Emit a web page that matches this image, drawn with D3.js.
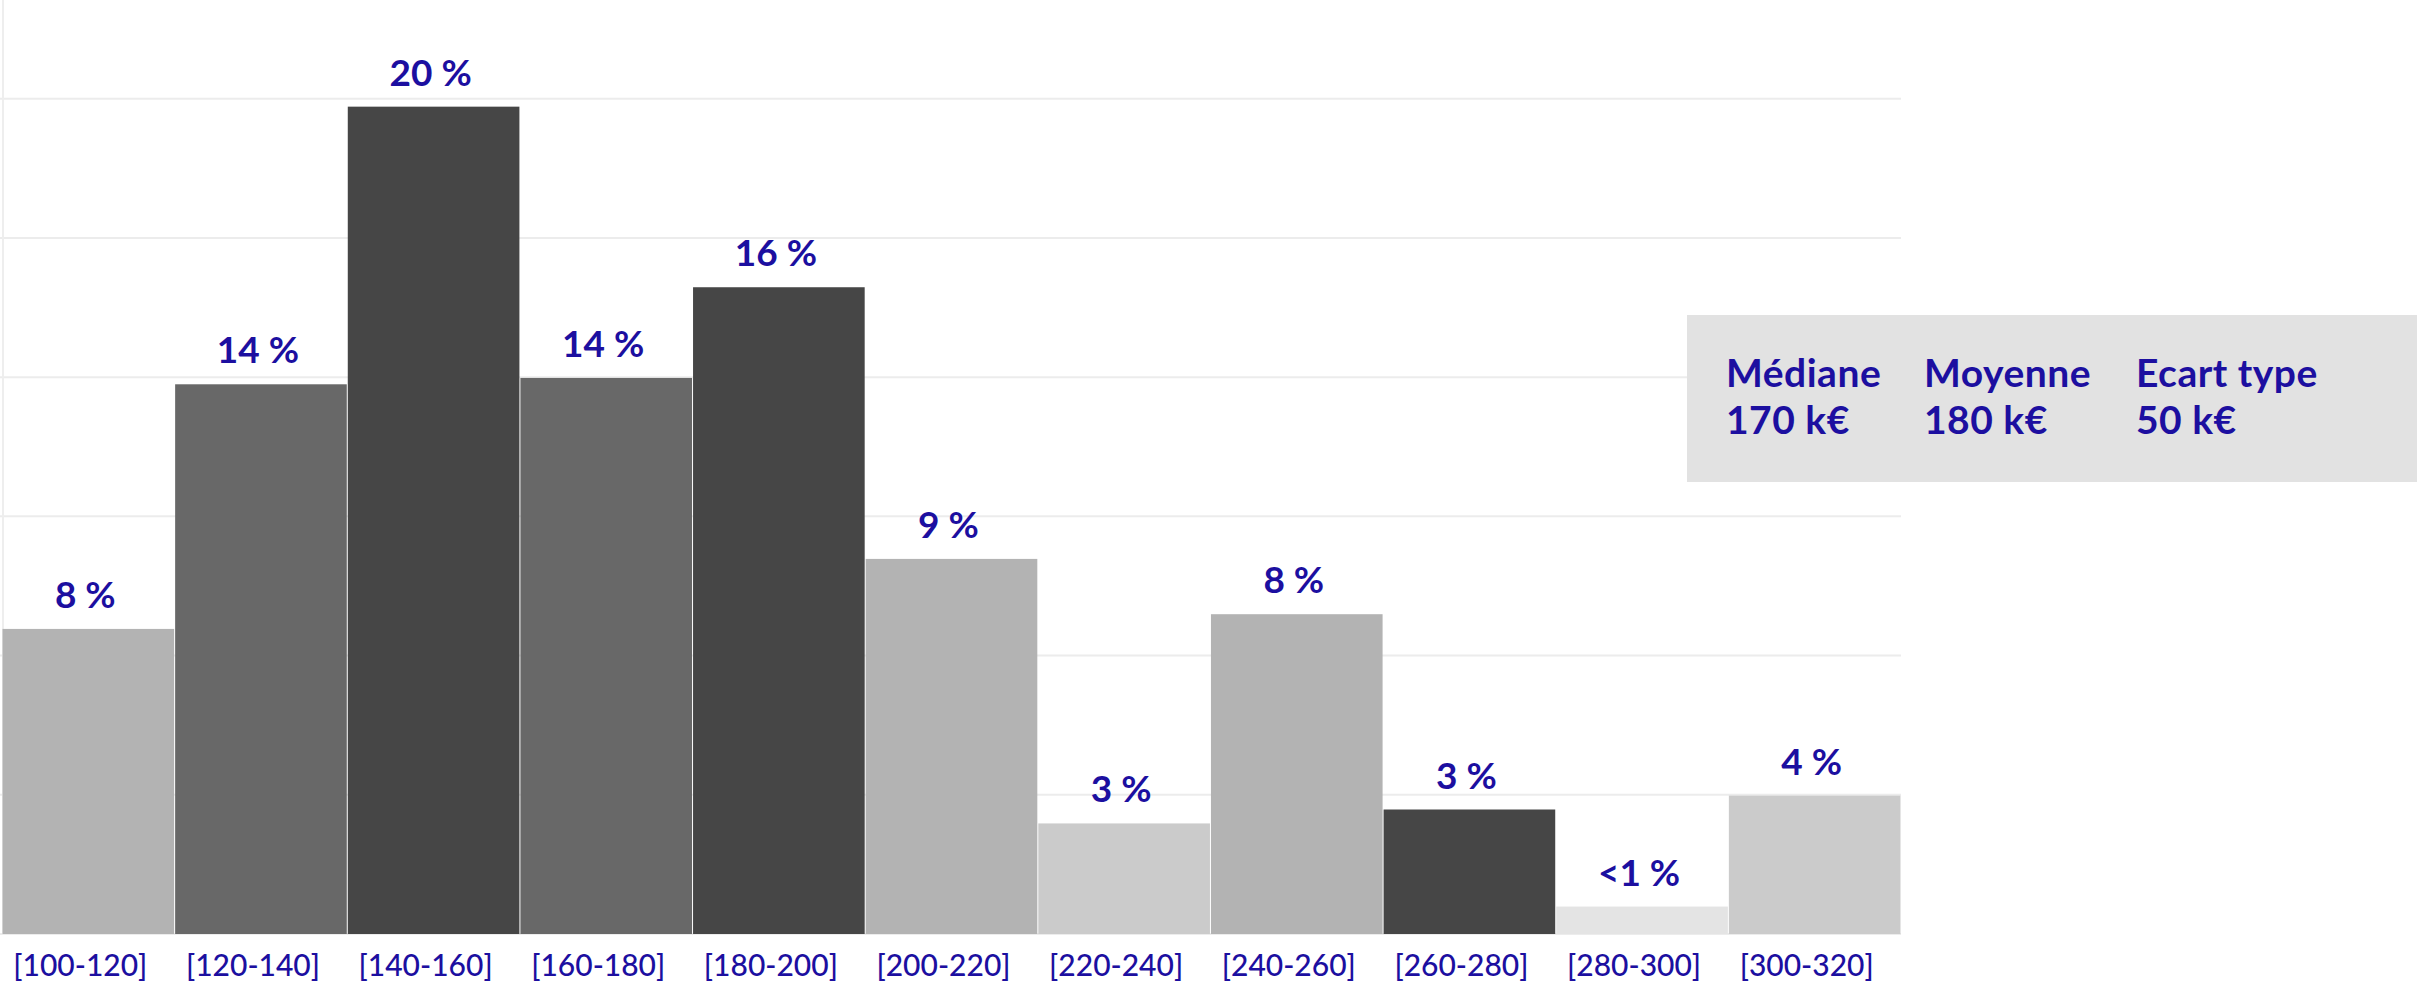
<!DOCTYPE html>
<html>
<head>
<meta charset="utf-8">
<script src="https://cdn.jsdelivr.net/npm/d3@7"></script>
<style>
  html, body { margin: 0; padding: 0; background: #ffffff; }
  svg { display: block; }
</style>
</head>
<body>
<svg id="chart" width="2417" height="982"></svg>
<script>
// ---- data ----
const categories = ["[100-120]", "[120-140]", "[140-160]", "[160-180]", "[180-200]", "[200-220]",
                    "[220-240]", "[240-260]", "[260-280]", "[280-300]", "[300-320]"];
const values = [7.67, 13.82, 20.8, 13.98, 16.26, 9.43, 2.78, 8.04, 3.13, 0.69, 3.48];
const valueLabels = ["8 %", "14 %", "20 %", "14 %", "16 %", "9 %", "3 %", "8 %", "3 %", "<1 %", "4 %"];
const yTicks = [0, 3.5, 7, 10.5, 14, 17.5, 21];
const statNames = ["Médiane", "Moyenne", "Ecart type"];
const statValues = ["170 k€", "180 k€", "50 k€"];

// ---- style ----
const barColors = ["#b3b3b3", "#686868", "#464646", "#686868", "#464646", "#b3b3b3",
                   "#cbcbcb", "#b3b3b3", "#464646", "#e4e4e4", "#cbcbcb"];
const textColor = "#1c0fa0";
const font = "Lato, 'Open Sans', sans-serif";

const svg = d3.select("#chart");

const x = d3.scaleBand().domain(categories).range([2, 1901]).paddingInner(0).paddingOuter(0);
const y = d3.scaleLinear().domain([0, 21]).range([934, 98.7]);

// gridlines
svg.append("g")
  .selectAll("line")
  .data(yTicks)
  .join("line")
  .attr("x1", 0)
  .attr("x2", 1901)
  .attr("y1", d => y(d))
  .attr("y2", d => y(d))
  .attr("stroke", "#ececec")
  .attr("stroke-width", 2);

// left vertical line
svg.append("line")
  .attr("x1", 3).attr("x2", 3)
  .attr("y1", 0).attr("y2", y(0))
  .attr("stroke", "#eeeeee")
  .attr("stroke-width", 2);

// bars
svg.append("g")
  .selectAll("rect")
  .data(values)
  .join("rect")
  .attr("x", (d, i) => x(categories[i]) + 0.5)
  .attr("width", x.bandwidth() - 1)
  .attr("y", d => y(d))
  .attr("height", d => y(0) - y(d))
  .attr("fill", (d, i) => barColors[i]);

// value labels
svg.append("g")
  .selectAll("text")
  .data(values)
  .join("text")
  .attr("x", (d, i) => x(categories[i]) + x.bandwidth() / 2 - 3)
  .attr("y", d => y(d) - 21)
  .attr("text-anchor", "middle")
  .attr("font-family", font)
  .attr("font-weight", 700)
  .attr("font-size", 37)
  .attr("fill", textColor)
  .text((d, i) => valueLabels[i]);

// x axis labels
const xAxis = d3.axisBottom(x).tickSize(0).tickPadding(0);
const gx = svg.append("g")
  .attr("transform", `translate(0, ${y(0)})`)
  .call(xAxis);
gx.select(".domain").remove();
gx.selectAll("text")
  .attr("y", 42)
  .attr("dy", 0)
  .attr("dx", -8)
  .attr("font-family", font)
  .attr("font-weight", 500)
  .attr("font-size", 30)
  .attr("fill", textColor);

// stats box
svg.append("rect")
  .attr("x", 1687).attr("y", 315)
  .attr("width", 730).attr("height", 167)
  .attr("fill", "#e2e2e2");

const statX = [1726, 1924, 2136];
const stats = svg.append("g")
  .attr("font-family", font)
  .attr("font-weight", 700)
  .attr("font-size", 39)
  .attr("letter-spacing", 0.5)
  .attr("fill", textColor);
stats.selectAll("text.name")
  .data(statNames)
  .join("text")
  .attr("class", "name")
  .attr("x", (d, i) => statX[i])
  .attr("y", 387)
  .text(d => d);
stats.selectAll("text.val")
  .data(statValues)
  .join("text")
  .attr("class", "val")
  .attr("x", (d, i) => statX[i])
  .attr("y", 434)
  .text(d => d);
</script>
</body>
</html>
